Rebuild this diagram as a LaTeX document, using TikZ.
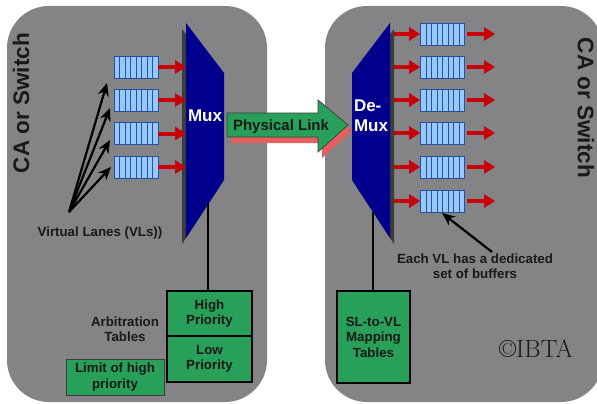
\documentclass[tikz,border=0pt]{standalone}
\usepackage{fontspec}
\newfontfamily\arial{Liberation Sans}
\usetikzlibrary{arrows.meta,calc}
\definecolor{panel}{RGB}{132,131,134}
\definecolor{navy}{RGB}{0,0,140}
\definecolor{grn}{RGB}{40,160,90}
\definecolor{bufb}{RGB}{150,200,250}
\definecolor{bufl}{RGB}{40,80,160}
\definecolor{redar}{RGB}{200,0,10}
\definecolor{shred}{RGB}{228,95,95}
\definecolor{shad}{RGB}{60,60,60}
\definecolor{txt}{RGB}{25,25,25}
\begin{document}
\begin{tikzpicture}[x=1pt,y=-1pt,
  panelbox/.style={fill=panel,rounded corners=42pt},
  buf/.style={draw=bufl,fill=bufb,minimum width=44pt,minimum height=22pt,inner sep=0pt,line width=0.6pt,
    path picture={\foreach \k in {1,...,7}{\draw[bufl,line width=0.5pt]
      ($(path picture bounding box.north west)!\k/8!(path picture bounding box.north east)$) --
      ($(path picture bounding box.south west)!\k/8!(path picture bounding box.south east)$);}}},
  redarrow/.style={redar,line width=4pt,-{Triangle[length=11pt,width=13pt]}},
  blkarrow/.style={black,line width=2.2pt,-{Stealth[length=13pt,width=11pt]}},
  lbl/.style={font=\arial\bfseries\fontsize{13.3}{15.5}\selectfont,text=txt,align=center,inner sep=0pt},
  gbox/.style={draw=black,fill=grn,line width=2.2pt,align=center,inner sep=0pt,
    font=\arial\bfseries\fontsize{13.3}{15.5}\selectfont,text=txt},
  sidetitle/.style={font=\arial\bfseries\fontsize{22.5}{26}\selectfont,text=txt,inner sep=0pt},
  muxlbl/.style={font=\arial\bfseries\fontsize{17}{20}\selectfont,text=white,align=left,inner sep=0pt}
]
\useasboundingbox (0,0) rectangle (597,404);
\fill[white] (0,0) rectangle (597,404);
% panels
\fill[panelbox] (7,6) rectangle (267,402);
\fill[panelbox] (325,6) rectangle (603,402);
\fill[white] (597,0) rectangle (603,404);
\node[sidetitle,rotate=90] (caL) at (21,103) {CA or Switch};
\node[sidetitle,rotate=-90] (caR) at (586,108) {CA or Switch};

% physical link arrow with shadow
\fill[shred] (231,119) -- (322,119) -- (322,106) -- (352,131) -- (322,158) -- (322,143) -- (231,143) -- cycle;
\draw[fill=grn,draw=shad,line width=0.7pt] (227,113) -- (318,113) -- (318,100) -- (348,125) -- (318,152) -- (318,137) -- (227,137) -- cycle;
\node[font=\arial\bfseries\fontsize{15}{18}\selectfont,text=txt,inner sep=0pt] (plink) at (281,127) {Physical Link};

\coordinate (muxb) at (208,203);
\coordinate (dmxb) at (373,212);

% Mux
\fill[shad] (182,29) -- (220,79) -- (220,186) -- (182,244) -- cycle;
\fill[navy] (186,23) -- (224,73) -- (224,180) -- (186,238) -- cycle;
\coordinate (muxL) at (186,0);
\node[muxlbl] (mux) at (205,116) {Mux};

% De-Mux
\fill[shad] (394,29) -- (356,79) -- (356,186) -- (394,244) -- cycle;
\fill[navy] (390,23) -- (352,73) -- (352,180) -- (390,238) -- cycle;
\coordinate (dmxR) at (394,0);
\node[muxlbl] (demux) at (371,116) {De-\\Mux};

% left buffers
\foreach \i/\y in {1/67,2/100,3/133.5,4/167}{
  \node[buf] (l\i) at (136,\y) {};
  \draw[redarrow] (l\i.east) -- (l\i.east -| muxL);
}
% right buffers
\foreach \i/\y in {1/34,2/67,3/100,4/133,5/167,6/201}{
  \node[buf] (r\i) at (442.5,\y) {};
  \draw[redarrow] (r\i.west -| dmxR) -- (r\i.west);
  \coordinate (o\i) at (495,\y);
  \draw[redarrow] ([xshift=2pt]r\i.east) -- (o\i);
}

% virtual lanes arrows
\coordinate (vlsrc) at (69,212);
\coordinate (t1) at (107,83);
\coordinate (t2) at (110,108);
\coordinate (t3) at (110,140);
\coordinate (t4) at (111,167);
\foreach \i in {1,...,4}{\draw[blkarrow] (vlsrc) -- (t\i);}
\node[lbl] (vl) at (100,233) {Virtual Lanes (VLs))};

% arbitration tables
\node[gbox,minimum width=85pt,minimum height=45pt] (hp) at (209.5,313.5) {High\\Priority};
\node[gbox,minimum width=85pt,minimum height=46pt] (lp) at (209.5,359) {Low\\Priority};
\draw[black,line width=2pt] (muxb) -- (muxb |- hp.north);
\node[lbl] (arb) at (125,329) {Arbitration\\Tables};
\node[draw=shad,fill=grn,line width=1pt,minimum width=98pt,minimum height=36pt,align=center,inner sep=0pt,
  font=\arial\bfseries\fontsize{13.3}{15.5}\selectfont,text=txt] (lim) at (115,377) {Limit of high\\priority};

% SL-to-VL
\node[gbox,minimum width=73pt,minimum height=92pt] (sl) at (373.5,337) {SL-to-VL\\Mapping\\Tables};
\draw[black,line width=2pt] (dmxb) -- (dmxb |- sl.north);

% each VL note
\node[lbl] (each) at (475,266) {Each VL has a dedicated\\set of buffers};
\coordinate (eachsrc) at (492,252);
\coordinate (eachtip) at (442,213);
\draw[blkarrow] (eachsrc) -- (eachtip);

\node[font=\fontsize{25}{28}\selectfont,text=txt,inner sep=0pt] (ibta) at (536,349) {\textcopyright IBTA};
\end{tikzpicture}
\end{document}
